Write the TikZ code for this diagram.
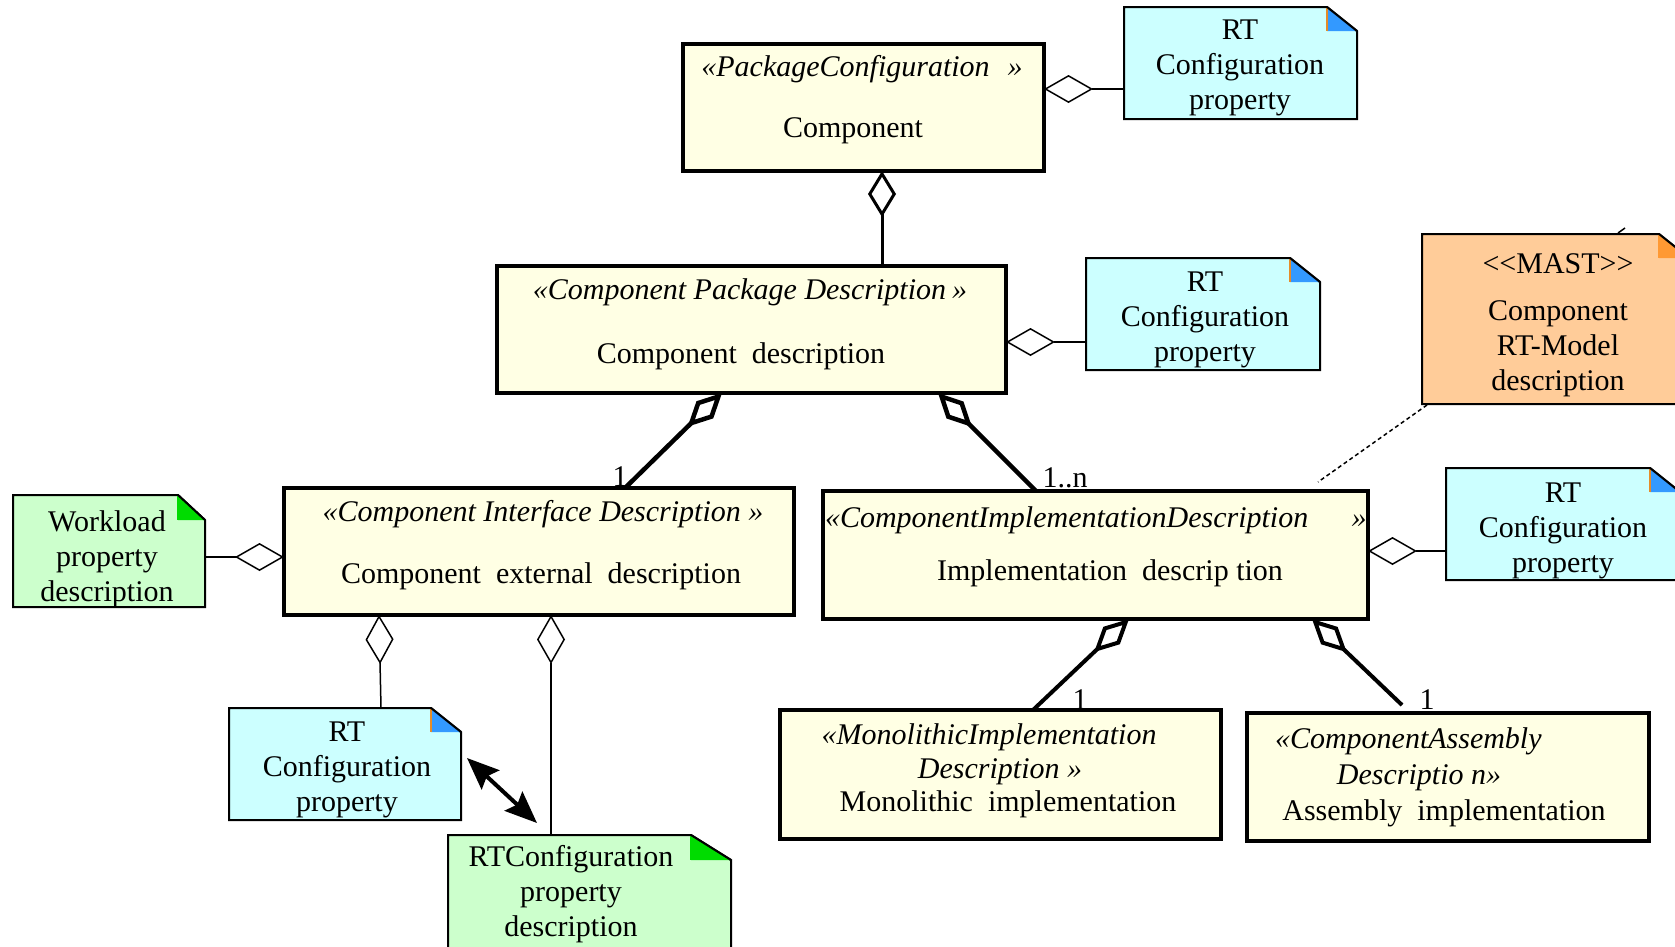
\documentclass[tikz,border=0pt]{standalone}
\usepackage{fontspec}
\setmainfont{Liberation Serif}
\usetikzlibrary{arrows.meta,calc}

\definecolor{clsfill}{RGB}{255,255,228}
\definecolor{rtfill}{RGB}{204,255,255}
\definecolor{rtfold}{RGB}{51,153,255}
\definecolor{gnfill}{RGB}{204,255,204}
\definecolor{gnfold}{RGB}{0,220,0}
\definecolor{mastfill}{RGB}{255,204,153}
\definecolor{mastfold}{RGB}{255,153,51}
\definecolor{foldedge}{RGB}{230,140,40}

% note outline with a dog-eared top right corner
% #1 node name, #2 fill, #3 fold fill, #4 fold width, #5 fold height, #6 fold edge colour
\newcommand\notebg[6]{%
  \draw[noteline, fill=#2] (#1.north west) -- ($(#1.north east)+(-#4,0)$)
     -- ($(#1.north east)+(0,#5)$) -- (#1.south east) -- (#1.south west) -- cycle;
  \fill[#3] ($(#1.north east)+(-#4,0)$) -- ($(#1.north east)+(0,#5)$)
     -- ($(#1.north east)+(-#4,#5)$) -- cycle;
  \draw[#6, line width=1.2pt] ($(#1.north east)+(-#4,1)$) -- ($(#1.north east)+(-#4,#5)$);
  \draw[noteline] ($(#1.north east)+(-#4,0)$) -- ($(#1.north east)+(0,#5)$);
}

\begin{document}
\begin{tikzpicture}[x=1pt,y=-1pt,
  classbox/.style={draw,line width=4.5pt,fill=clsfill,inner sep=0pt,outer sep=0pt,anchor=north west},
  notebox/.style={inner sep=0pt,outer sep=0pt,anchor=north west},
  noteline/.style={line width=2pt,line join=miter},
  txt/.style={font=\fontsize{30}{35}\selectfont,inner sep=0pt,outer sep=0pt},
  ntxt/.style={txt,align=center},
  agg/.style={line width=1.5pt,-{Diamond[length=49pt,width=28pt,fill=white]}},
  aggtop/.style={line width=3pt,-{Diamond[length=46pt,width=28pt,fill=white]}},
  comp/.style={line width=4.5pt,-{Diamond[length=48pt,width=24pt,fill=white]}},
  relarrow/.style={line width=4pt,{Stealth[length=32pt,width=26pt,inset=5pt]}-{Stealth[length=32pt,width=26pt,inset=5pt]}},
  trace/.style={line width=1.5pt,dash pattern=on 4pt off 3pt}]

\path[use as bounding box] (0,0) rectangle (1675,946);
\clip (0,0) rectangle (1675,946);

% ---- class boxes ----
\node[classbox,minimum width=361pt,minimum height=127pt] (pkg) at (683,44) {};
\node[classbox,minimum width=509pt,minimum height=127pt] (cpd) at (497,266) {};
\node[classbox,minimum width=510pt,minimum height=127pt] (cid) at (284,488) {};
\node[classbox,minimum width=545pt,minimum height=128pt] (cimpl) at (823,491) {};
\node[classbox,minimum width=441pt,minimum height=129pt] (mono) at (780,710) {};
\node[classbox,minimum width=402pt,minimum height=128pt] (asm) at (1247,713) {};

% ---- notes ----
\node[notebox,minimum width=233pt,minimum height=112pt] (rt1) at (1124,7) {};
\notebg{rt1}{rtfill}{rtfold}{30}{24}{foldedge}
\node[notebox,minimum width=234pt,minimum height=112pt] (rt2) at (1086,258) {};
\notebg{rt2}{rtfill}{rtfold}{30}{24}{foldedge}
\node[notebox,minimum width=234pt,minimum height=112pt] (rt3) at (1446,468) {};
\notebg{rt3}{rtfill}{rtfold}{30}{24}{foldedge}
\node[notebox,minimum width=232pt,minimum height=112pt] (rt4) at (229,708) {};
\notebg{rt4}{rtfill}{rtfold}{30}{24}{foldedge}
\node[notebox,minimum width=267pt,minimum height=170pt] (mast) at (1422,234) {};
\notebg{mast}{mastfill}{mastfold}{30}{24}{mastfold}
\node[notebox,minimum width=192pt,minimum height=112pt] (wl) at (13,495) {};
\notebg{wl}{gnfill}{gnfold}{27}{25}{gnfold}
\node[notebox,minimum width=283pt,minimum height=130pt] (rtd) at (448,835) {};
\notebg{rtd}{gnfill}{gnfold}{40}{25}{gnfold}

% ---- associations ----
\draw[agg] ($(rt1.north west)+(0,82)$) -- ($(pkg.north east)+(0,45)$);
\draw[aggtop] ($(cpd.north west)+(385,0)$) -- ($(pkg.south west)+(199,0)$);
\draw[agg] ($(rt2.north west)+(0,84)$) -- ($(cpd.north east)+(0,76)$);
\draw[comp] ($(cid.north west)+(341,0)$) -- ($(cpd.south west)+(225,0)$);
\draw[comp] ($(cimpl.north west)+(213,0)$) -- ($(cpd.south west)+(441,0)$);
\draw[agg] ($(wl.north east)+(0,62)$) -- ($(cid.north west)+(0,69)$);
\draw[agg] ($(rt3.north west)+(0,83)$) -- ($(cimpl.north east)+(0,60)$);
\draw[agg] ($(rt4.north west)+(152,0)$) -- ($(cid.south west)+(95,0)$);
\draw[agg] ($(rtd.north west)+(103,0)$) -- ($(cid.south west)+(267,0)$);
\draw[comp,line width=4pt] ($(mono.north west)+(253,0)$) -- ($(cimpl.south west)+(306,0)$);
\draw[comp,line width=4pt] ($(asm.north west)+(155,-8)$) -- ($(cimpl.south west)+(489,0)$);
\draw[relarrow] ($(rt4.north east)+(6,50)$) -- ($(rtd.north west)+(89,-12)$);
\draw[trace] ($(mast.south west)+(5,1)$) -- ($(cimpl.north east)+(-50,-9)$);
\draw[line width=1.5pt] ($(mast.north west)+(196,-1)$) -- ++(7,-5);

% ---- multiplicities ----
\node[txt,anchor=base] (m1) at (620,486) {1};
\node[txt,anchor=base] (m2) at (1065,487) {1..n};
\node[txt,anchor=base] (m3) at (1080,709) {1};
\node[txt,anchor=base] (m4) at (1427,709) {1};

% ---- class texts ----
\node[txt,anchor=base] (pkg-st) at (862,76) {\itshape «PackageConfiguration\hspace{18pt}»};
\node[txt,anchor=base] (pkg-nm) at (853,137) {Component};
\node[txt,anchor=base] (cpd-st) at (750,299) {\itshape «Component Package Description\hspace{6pt}»};
\node[txt,anchor=base] (cpd-nm) at (741,363) {Component\ \ description};
\node[txt,anchor=base] (cid-st) at (543,521) {\itshape «Component Interface Description »};
\node[txt,anchor=base] (cid-nm) at (541,583) {Component\ \ external\ \ description};
\node[txt,anchor=base west] (cimpl-st) at (825,527) {\itshape «ComponentImplementationDescription};
\node[txt,anchor=base] (cimpl-cl) at (1359,527) {\itshape »};
\node[txt,anchor=base] (cimpl-nm) at (1110,580) {Implementation\ \ descrip tion};
\node[txt,anchor=base] (mono-st1) at (989,744) {\itshape «MonolithicImplementation};
\node[txt,anchor=base] (mono-st2) at (1000,778) {\itshape Description »};
\node[txt,anchor=base] (mono-nm) at (1008,811) {Monolithic\ \ implementation};
\node[txt,anchor=base west] (asm-st1) at (1275,748) {\itshape «ComponentAssembly};
\node[txt,anchor=base] (asm-st2) at (1419,784) {\itshape Descriptio n»};
\node[txt,anchor=base] (asm-nm) at (1444,820) {Assembly\ \ implementation};

% ---- note texts ----
\node[ntxt] (rt1-t) at (1240,68) {RT\\Configuration\\property};
\node[ntxt] (rt2-t) at (1205,320) {RT\\Configuration\\property};
\node[ntxt] (rt3-t) at (1563,531) {RT\\Configuration\\property};
\node[ntxt] (rt4-t) at (347,770) {RT\\Configuration\\property};
\node[ntxt] (wl-t) at (107,559) {Workload\\property\\description};
\node[ntxt] (rtd-t) at (571,894) {RTConfiguration\\property\\description};
\node[ntxt] (mast-t) at (1558,325) {<\kern0pt<MAST>\kern0pt>\\[12pt]Component\\RT-Model\\description};
\end{tikzpicture}
\end{document}
